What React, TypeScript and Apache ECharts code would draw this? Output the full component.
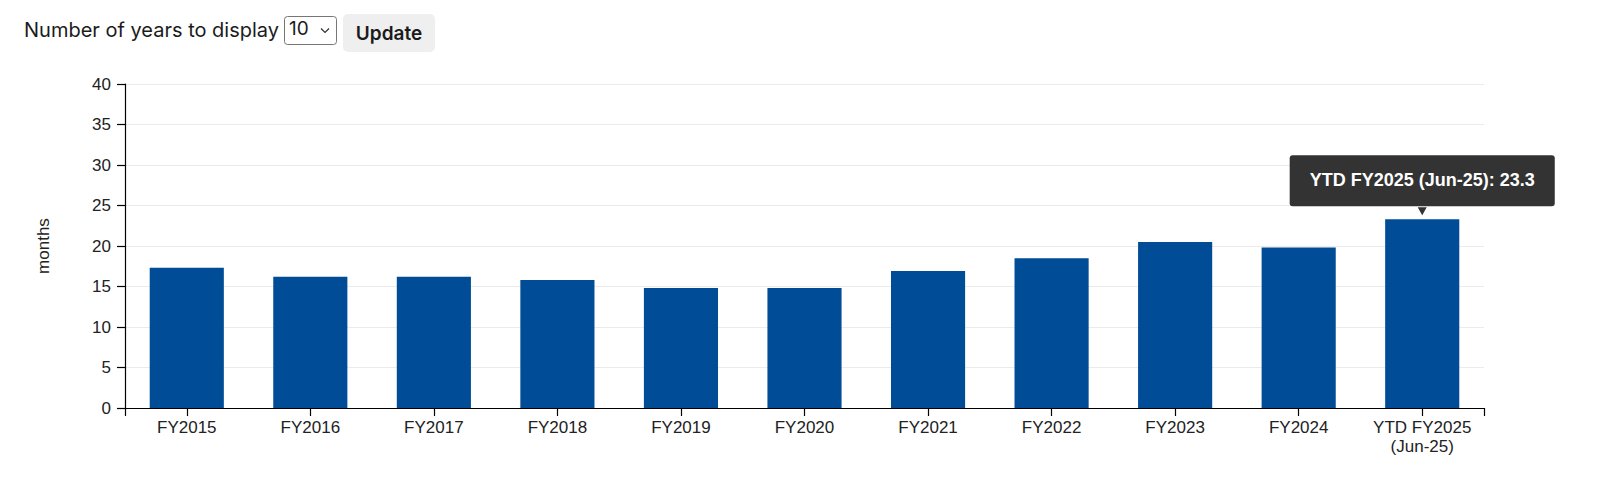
import React, { useEffect, useRef } from "react";
import * as echarts from "echarts";

const categories = [
  "FY2015",
  "FY2016",
  "FY2017",
  "FY2018",
  "FY2019",
  "FY2020",
  "FY2021",
  "FY2022",
  "FY2023",
  "FY2024",
  "YTD FY2025\n(Jun-25)",
];
const values = [17.3, 16.2, 16.2, 15.8, 14.8, 14.8, 16.9, 18.5, 20.5, 19.8, 23.3];
const yTicks = { min: 0, max: 40, interval: 5 };
const axisName = "months";
const controlLabel = "Number of years to display";
const selectValue = "10";
const buttonLabel = "Update";

const BAR = "#004C97";
const FONT = "'Liberation Sans', Arial, Helvetica, sans-serif";
const UI_FONT = "Inter, 'Noto Sans', sans-serif";

export default function App() {
  const ref = useRef<HTMLDivElement>(null);

  useEffect(() => {
    if (!ref.current) return;
    const chart = echarts.init(ref.current, null, { renderer: "svg" });
    const last = values.length - 1;
    const seriesData = values.map((v, i) =>
      i === last
        ? {
            value: v,
            label: {
              show: true,
              position: "top",
              distance: 13,
              formatter: (p: any) => `${String(p.name).replace("\n", " ")}: ${p.value}`,
              backgroundColor: "#333333",
              color: "#ffffff",
              fontFamily: FONT,
              fontWeight: "bold",
              fontSize: 18,
              lineHeight: 20,
              padding: [15, 20, 16, 20],
              borderRadius: 3,
            },
          }
        : v
    );

    chart.setOption({
      animation: false,
      grid: { left: 125, right: 116, top: 84, bottom: 92, containLabel: false },
      textStyle: { fontFamily: FONT },
      graphic: [
        {
          type: "text",
          left: 24,
          top: 20,
          style: {
            text: controlLabel,
            fontFamily: UI_FONT,
            fontSize: 20,
            fill: "#1b1b1b",
          },
        },
        {
          type: "rect",
          left: 284,
          top: 16,
          shape: { width: 52, height: 28, r: 3 },
          style: { fill: "#ffffff", stroke: "#767676", lineWidth: 1 },
        },
        {
          type: "text",
          left: 289,
          top: 19,
          style: { text: selectValue, fontFamily: UI_FONT, fontSize: 19, fill: "#1b1b1b" },
        },
        {
          type: "polyline",
          shape: { points: [[321, 28.5], [325, 32.5], [329, 28.5]] },
          style: { stroke: "#333333", lineWidth: 1.2, fill: null },
        },
        {
          type: "rect",
          left: 343,
          top: 14,
          shape: { width: 92, height: 38, r: 5 },
          style: { fill: "#efefef" },
        },
        {
          type: "text",
          x: 389,
          y: 33,
          style: {
            text: buttonLabel,
            fontFamily: UI_FONT,
            fontSize: 19,
            fontWeight: 600,
            fill: "#1b1b1b",
            align: "center",
            verticalAlign: "middle",
          },
        },
      ],
      xAxis: [
        {
          type: "category",
          data: categories,
          position: "bottom",
          axisLine: { show: true, lineStyle: { color: "#000", width: 1.2 } },
          axisTick: { show: true, alignWithLabel: true, length: 8, lineStyle: { color: "#000", width: 1.2 } },
          axisLabel: {
            interval: 0,
            margin: 10,
            fontSize: 17,
            lineHeight: 19,
            color: "#222",
            fontFamily: FONT,
          },
          splitLine: { show: false },
        },
        {
          type: "value",
          position: "bottom",
          min: 0,
          max: 11,
          interval: 11,
          axisLine: { show: false },
          axisTick: { show: true, length: 8, lineStyle: { color: "#000", width: 1.2 } },
          axisLabel: { show: false },
          splitLine: { show: false },
        },
      ],
      yAxis: {
        type: "value",
        min: yTicks.min,
        max: yTicks.max,
        interval: yTicks.interval,
        name: axisName,
        nameLocation: "middle",
        nameRotate: 90,
        nameGap: 73,
        nameTextStyle: { fontSize: 17, color: "#222", fontFamily: FONT },
        axisLine: { show: true, lineStyle: { color: "#000", width: 1.2 } },
        axisTick: { show: true, length: 8, lineStyle: { color: "#000", width: 1.2 } },
        axisLabel: { margin: 14, fontSize: 17, color: "#222", fontFamily: FONT },
        splitLine: { show: true, lineStyle: { color: "#ebebeb", width: 1.2 } },
      },
      series: [
        {
          type: "bar",
          xAxisIndex: 0,
          yAxisIndex: 0,
          data: seriesData,
          barWidth: "60%",
          itemStyle: { color: BAR },
          emphasis: { disabled: true },
          markPoint: {
            silent: true,
            symbol: "triangle",
            symbolRotate: 180,
            symbolSize: [9, 8],
            symbolOffset: [0, -8],
            itemStyle: { color: "#333333" },
            label: { show: false },
            data: [{ coord: [last, values[last]] }],
          },
        },
      ],
    });

    return () => chart.dispose();
  }, []);

  return (
    <div
      ref={ref}
      style={{ position: "absolute", left: 0, top: 0, width: 1600, height: 500 }}
    />
  );
}
